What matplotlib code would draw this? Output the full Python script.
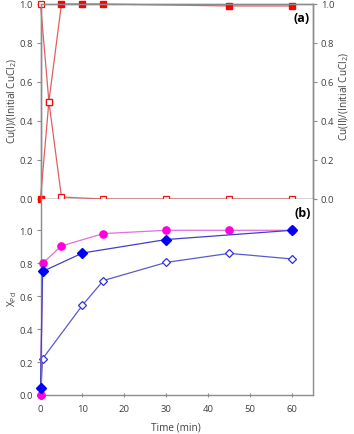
import matplotlib
matplotlib.use('Agg')
import matplotlib.pyplot as plt

plt.rcParams['font.family'] = ['Open Sans', 'DejaVu Sans']
plt.rcParams['mathtext.fontset'] = 'custom'
plt.rcParams['mathtext.rm'] = 'Open Sans'
plt.rcParams['mathtext.it'] = 'Open Sans'

# panel (a): copper fractions
t_cu1 = [0, 2, 5, 10, 15, 45, 60]
cu1 = [0.0, 0.5, 1.0, 1.0, 1.0, 0.99, 0.99]
t_cu2 = [0, 2, 5, 15, 30, 45, 60]
cu2 = [1.0, 0.5, 0.01, 0.0, 0.0, 0.0, 0.0]

# panel (b): Pd conversion
t_mag = [0, 0.5, 5, 15, 30, 45, 60]
x_mag = [0.0, 0.80, 0.905, 0.98, 1.0, 1.0, 1.0]
t_fd = [0, 0.5, 10, 30, 60]
x_fd = [0.04, 0.75, 0.862, 0.944, 1.0]
t_od = [0, 0.5, 10, 15, 30, 45, 60]
x_od = [0.0, 0.22, 0.545, 0.695, 0.805, 0.86, 0.826]

yt = [0, 0.2, 0.4, 0.6, 0.8, 1.0]
xt = [0, 10, 20, 30, 40, 50, 60]

W, H = 354, 435
fig = plt.figure(figsize=(W/100, H/100), dpi=100)
L = 40.5/W
Wd = (313-40.5)/W

spc = '#8c8c8c'
txc = '#404040'
fs = 6.8

def style(ax):
    for s in ax.spines.values():
        s.set_color(spc)
        s.set_linewidth(1.0)
    ax.tick_params(colors=spc, labelcolor=txc, labelsize=fs, length=3, width=0.8, pad=2.5)

# top panel
ax1 = fig.add_axes([L, (H-200)/H, Wd, 195/H])
ax1.plot(t_cu1, cu1, color='#e06060', lw=0.9, marker='s', ms=4.6,
         mfc='#ff0000', mec='#ff0000', clip_on=False, zorder=3)
ax1.plot(t_cu2, cu2, color='#e06060', lw=0.9, marker='s', ms=4.6,
         mfc='white', mec='#ee1111', mew=0.9, clip_on=False, zorder=4)
ax1.set_xlim(0, 65)
ax1.set_ylim(0, 1.0)
ax1.set_yticks(yt)
ax1.set_yticklabels(['%.1f' % v for v in yt])
ax1.set_xticks([])
style(ax1)
ax1.text(0.957, 0.93, '(a)', transform=ax1.transAxes, ha='center', va='center',
         fontsize=9, fontweight='bold', color='black')

ax1r = ax1.twinx()
ax1r.set_ylim(0, 1.0)
ax1r.set_yticks(yt)
ax1r.set_yticklabels(['%.1f' % v for v in yt])
style(ax1r)

# bottom panel
ax2 = fig.add_axes([L, (H-396)/H, Wd, 196/H])
ax2.plot(t_mag, x_mag, color='#e070e0', lw=0.9, marker='o', ms=5.2,
         mfc='#ff00dd', mec='#ff00dd', clip_on=False, zorder=3)
ax2.plot(t_od, x_od, color='#5a5ad0', lw=0.9, marker='D', ms=4.4,
         mfc='white', mec='#3030e0', mew=0.9, clip_on=False, zorder=2)
ax2.plot(t_fd, x_fd, color='#4040c8', lw=0.9, marker='D', ms=4.6,
         mfc='#0000ff', mec='#0000ff', clip_on=False, zorder=4)
ax2.set_xlim(0, 65)
ax2.set_ylim(0, 1.19)
ax2.set_yticks(yt)
ax2.set_yticklabels(['%.1f' % v for v in yt])
ax2.set_xticks(xt)
ax2.spines['top'].set_visible(False)
style(ax2)
ax2.tick_params(axis='x', direction='inout', length=3, pad=5)
ax2.text(0.962, 0.93, '(b)', transform=ax2.transAxes, ha='center', va='center',
         fontsize=9, fontweight='bold', color='black')

fig.text(12/W, 1-101/H, 'Cu(I)/(Initial CuCl$_2$)', rotation=90, ha='center', va='center',
         fontsize=7.2, color=txc)
fig.text(344/W, 1-96/H, 'Cu(II)/(Initial CuCl$_2$)', rotation=90, ha='center', va='center',
         fontsize=7.2, color=txc)
fig.text(12/W, 1-299/H, 'X$_{Pd}$', rotation=90, ha='center', va='center',
         fontsize=7.2, color=txc)
fig.text(176/W, 1-428/H, 'Time (min)', ha='center', va='center', fontsize=7.2, color=txc)

fig.savefig('out.png', dpi=100)
